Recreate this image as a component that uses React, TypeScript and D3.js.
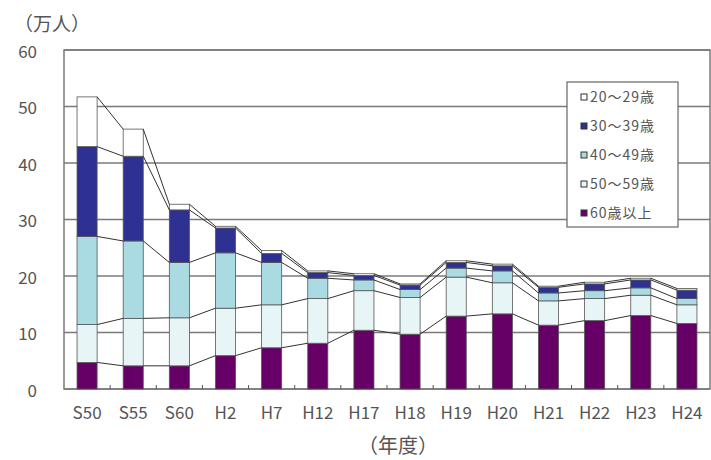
import React from 'react'
import { scaleBand, scaleLinear, stack } from 'd3'

const years = ['S50', 'S55', 'S60', 'H2', 'H7', 'H12', 'H17', 'H18', 'H19', 'H20', 'H21', 'H22', 'H23', 'H24']

// 万人, bottom to top
const age60 = [4.7, 4.1, 4.1, 5.9, 7.3, 8.1, 10.4, 9.7, 12.9, 13.3, 11.3, 12.1, 13.0, 11.6]
const age50 = [6.7, 8.4, 8.5, 8.4, 7.6, 7.9, 7.0, 6.5, 6.9, 5.5, 4.3, 3.9, 3.6, 3.3]
const age40 = [15.6, 13.7, 9.8, 9.8, 7.5, 3.6, 1.9, 1.4, 1.6, 2.1, 1.4, 1.4, 1.3, 1.1]
const age30 = [15.9, 15.0, 9.3, 4.4, 1.6, 1.0, 0.8, 0.8, 1.0, 0.9, 1.0, 1.2, 1.4, 1.5]
const age20 = [8.8, 4.8, 1.0, 0.3, 0.5, 0.3, 0.3, 0.2, 0.3, 0.3, 0.2, 0.3, 0.3, 0.3]

const yTicks = [0, 10, 20, 30, 40, 50, 60]
const legendLabels = ['20～29歳', '30～39歳', '40～49歳', '50～59歳', '60歳以上']

const keys = ['a60', 'a50', 'a40', 'a30', 'a20']
const colors = {
  a60: '#660066',
  a50: '#e8f5f7',
  a40: '#aadbe3',
  a30: '#2e3192',
  a20: '#ffffff'
}
const legendKeys = ['a20', 'a30', 'a40', 'a50', 'a60']

const W = 711
const H = 460
const margin = { top: 50, right: 1, bottom: 71, left: 64 }

export default function App() {
  const rows = years.map((y, i) => ({
    year: y, a60: age60[i], a50: age50[i], a40: age40[i], a30: age30[i], a20: age20[i]
  }))
  const series = stack().keys(keys)(rows as any)

  const x = scaleBand().domain(years)
    .range([margin.left, W - margin.right])
    .paddingInner(0.565).paddingOuter(0.2825)
  const y = scaleLinear().domain([0, 60]).range([H - margin.bottom, margin.top])
  const bw = x.bandwidth()
  const step = x.step()
  const font = '"Noto Sans CJK JP", "DejaVu Sans", sans-serif'

  return (
    <svg width={W} height={H} style={{ position: 'absolute', left: 0, top: 0, background: '#fff' }}>
      {/* grid */}
      {yTicks.map(t => (
        <line key={t} x1={margin.left} x2={W - margin.right} y1={y(t)} y2={y(t)}
          stroke="#7a7a7a" strokeWidth={1.5} />
      ))}
      <rect x={margin.left} y={margin.top} width={W - margin.right - margin.left}
        height={y(0) - margin.top} fill="none" stroke="#7a7a7a" strokeWidth={1.5} />

      {/* bars */}
      {series.map(s => (
        <g key={s.key}>
          {s.map((d, i) => (
            <rect key={i} x={x(years[i])} y={y(d[1])} width={bw} height={y(d[0]) - y(d[1])}
              fill={colors[s.key]} stroke="#555" strokeWidth={0.8} />
          ))}
        </g>
      ))}

      {/* series lines */}
      {series.map(s => (
        <g key={'l' + s.key}>
          {s.slice(0, -1).map((d, i) => (
            <line key={i} x1={x(years[i]) + bw} y1={y(d[1])}
              x2={x(years[i + 1])} y2={y(s[i + 1][1])}
              stroke="#333" strokeWidth={1} />
          ))}
        </g>
      ))}

      {/* ticks between categories */}
      {years.slice(1).map((yr, i) => (
        <line key={yr} x1={x(yr) - (step - bw) / 2} x2={x(yr) - (step - bw) / 2}
          y1={y(0)} y2={y(0) - 4} stroke="#555" strokeWidth={1} />
      ))}

      {/* y labels */}
      {yTicks.map(t => (
        <text key={t} x={37} y={y(t) + 2} dy="0.35em" textAnchor="end" fontFamily={font}
          fontSize={17} fill="#555">{t}</text>
      ))}

      {/* x labels */}
      {years.map(yr => (
        <text key={yr} x={x(yr) + bw / 2} y={y(0) + 30} textAnchor="middle" fontFamily={font}
          fontSize={17} fill="#555">{yr}</text>
      ))}

      <text x={14} y={31} fontFamily={font} fontSize={19} fill="#555">（万人）</text>
      <text x={398} y={453} textAnchor="middle" fontFamily={font} fontSize={20} fill="#555">（年度）</text>

      {/* legend */}
      <g>
        <rect x={567} y={82} width={111} height={145} fill="#fff" stroke="#666" strokeWidth={1.2} />
        {legendKeys.map((k, i) => (
          <g key={k} transform={`translate(581, ${97 + i * 29})`}>
            <rect x={0} y={-3} width={6} height={6} fill={colors[k]} stroke="#333" strokeWidth={1} />
            <text x={9} y={0} dy="0.36em" fontFamily={font} fontSize={14} fill="#555"
              letterSpacing={1}>{legendLabels[i]}</text>
          </g>
        ))}
      </g>
    </svg>
  )
}
